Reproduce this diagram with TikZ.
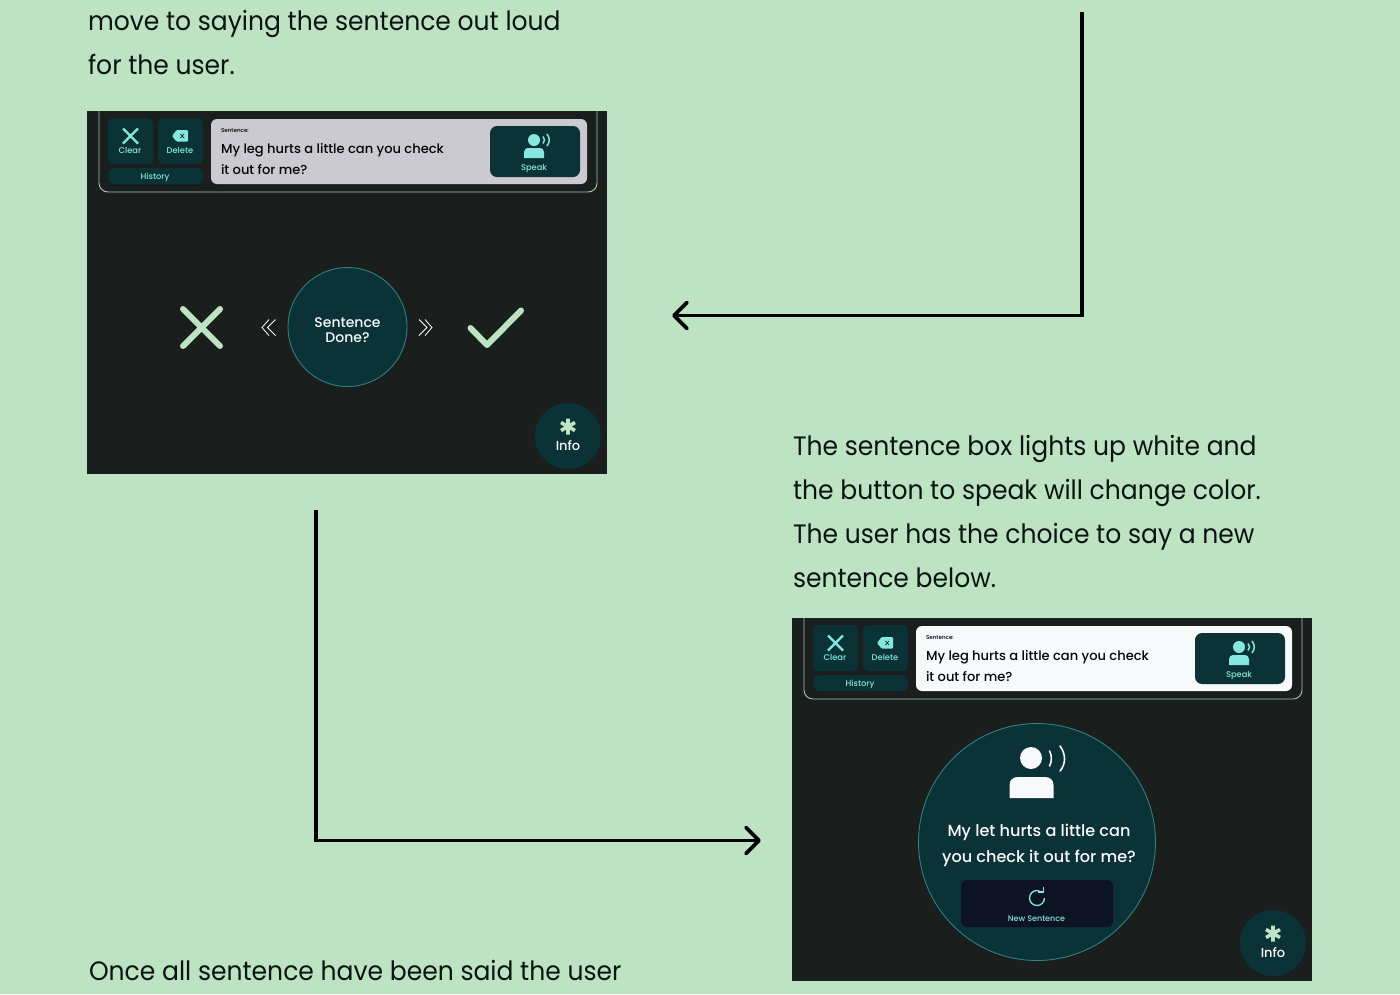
\documentclass[tikz,border=0pt]{standalone}
\usepackage{fontspec}
\setmainfont{Poppins Medium}
\newfontfamily\headf[FakeStretch=0.941]{Poppins}
\usetikzlibrary{arrows.meta}
\definecolor{bgc}{HTML}{BDE3C3}
\definecolor{panelc}{HTML}{1A1F1E}
\definecolor{tealc}{HTML}{0B3237}
\definecolor{aquac}{HTML}{84E8E0}
\definecolor{lightc}{HTML}{F8F9FB}
\definecolor{greyc}{HTML}{CACAD0}
\definecolor{navyc}{HTML}{0D1224}
\definecolor{ringc}{HTML}{2F8080}
\definecolor{inkc}{HTML}{0A1412}
\tikzset{
  x=1pt,y=-1pt,
  txt/.style={inner sep=0pt,outer sep=0pt},
  head/.style={txt,anchor=base west,font=\headf\fontsize{26.6}{44}\selectfont,text=inkc},
  uibtn/.style={fill=tealc,rounded corners=5pt,draw=none},
  small/.style={txt,anchor=base,font=\fontsize{8.3}{9}\selectfont,text=aquac},
  sent/.style={txt,anchor=base west,font=\fontsize{13.05}{15}\selectfont,text=black!85!panelc},
  flow/.style={line width=3.7pt,black,line join=miter},
  flowtip/.style={line width=3.7pt,black,line cap=round,line join=round},
}
\newcommand{\infobtn}[1]{%
  \node[circle,fill=tealc,minimum size=66pt,inner sep=0pt] (#1info) at (568,436) {};
  \draw[bgc,line width=3.6pt] (568,418.5)--(568,434.5) (561,422.5)--(575,430.5) (561,430.5)--(575,422.5);
  \node[txt,anchor=base,font=\fontsize{13}{15}\selectfont,text=lightc] (#1infot) at (568,450) {Info};
}
\newcommand{\topbar}[2]{%
  \fill[panelc] (87,111) rectangle (607,474);
  \draw[bgc!85!panelc,line width=.9pt,rounded corners=9pt] (99,111)--(99,192)--(597,192)--(597,111);
  \node[uibtn,minimum width=45pt,minimum height=46pt,inner sep=0pt] (#1clear) at (130.5,141) {};
  \node[uibtn,minimum width=45pt,minimum height=46pt,inner sep=0pt] (#1del) at (180.5,141) {};
  \node[uibtn,rounded corners=7pt,minimum width=95pt,minimum height=16pt,inner sep=0pt] (#1hist) at (155.5,176) {};
  \node[fill=#2,rounded corners=6pt,minimum width=376pt,minimum height=65pt,inner sep=0pt] (#1box) at (399,151.5) {};
  \node[uibtn,rounded corners=7pt,minimum width=90pt,minimum height=51pt,inner sep=0pt] (#1speak) at (535,151.5) {};
  \draw[aquac,line width=2.2pt] (123,128.5)--(138,143.5) (138,128.5)--(123,143.5);
  \node[small] (#1clt) at (130,153.8) {Clear};
  \fill[aquac,rounded corners=1pt] (172,136)--(176.5,130)--(188,130)--(188,141.5)--(176.5,141.5)--cycle;
  \draw[tealc,line width=.8pt] (180.5,134)--(184,138) (184,134)--(180.5,138);
  \node[small] (#1det) at (180,153.8) {Delete};
  \node[small] (#1hit) at (155,179.5) {History};
  \node[txt,anchor=base west,font=\fontsize{5.6}{6}\selectfont,text=black] (#1sl) at (221,132) {Sentence:};
  \node[sent] (#1s1) at (221,153.5) {My leg hurts a little can you check};
  \node[sent] (#1s2) at (221,174.5) {it out for me?};
  \fill[aquac] (534,140) circle[radius=6pt];
  \fill[aquac] (524,158) -- (524,152) .. controls (524,149.5) and (526,148) .. (528,148) -- (540,148) .. controls (542,148) and (544,149.5) .. (544,152) -- (544,158) -- cycle;
  \draw[aquac,line width=1.5pt] (543,136.5) .. controls (545,139) and (545,141) .. (543,143.5)
     (547,134) .. controls (550,138) and (550,142) .. (547,146);
  \node[small] (#1spt) at (534,170.5) {Speak};
}
\begin{document}
\begin{tikzpicture}
\useasboundingbox (0,0) rectangle (1400,994);
\fill[bgc] (0,0) rectangle (1400,994);
% texts
\node[head] (t1) at (88,30) {move to saying the sentence out loud};
\node[head] (t2) at (88,74) {for the user.};
\node[head] (t3) at (793,455) {The sentence box lights up white and};
\node[head] (t4) at (793,499) {the button to speak will change color.};
\node[head] (t5) at (793,543) {The user has the choice to say a new};
\node[head] (t6) at (793,587) {sentence below.};
\node[head] (t7) at (89,980) {Once all sentence have been said the user};
% left panel
\topbar{a}{greyc}
\node[circle,fill=tealc,draw=ringc,line width=.9pt,minimum size=119pt,inner sep=0pt] (adone) at (347.5,327) {};
\node[txt,anchor=base,font=\fontsize{14}{15}\selectfont,text=lightc] (ad1) at (347.5,327) {Sentence};
\node[txt,anchor=base,font=\fontsize{14}{15}\selectfont,text=lightc] (ad2) at (347.5,342) {Done?};
\draw[bgc,line width=6pt,line cap=round] (183,309)--(220,346) (220,309)--(183,346);
\draw[bgc,line width=6pt,line cap=round,line join=round] (470.5,328)--(487,345)--(521,310.5);
\draw[white,line width=.8pt] (269,319.5)--(262,327.5)--(269,335.5) (275.5,319.5)--(267.5,327.5)--(275.5,335.5);
\draw[white,line width=.8pt] (419,319.5)--(427,327.5)--(419,335.5) (425,319.5)--(432,327.5)--(425,335.5);
\infobtn{a}
% right panel
\begin{scope}[shift={(705,507)}]
\topbar{b}{lightc}
\infobtn{b}
\end{scope}
\node[circle,fill=tealc,draw=ringc,line width=.9pt,minimum size=237pt,inner sep=0pt] (bcirc) at (1037,842) {};
\fill[lightc] (1031,758) circle[radius=11pt];
\fill[lightc] (1009.5,798) -- (1009.5,785) .. controls (1009.5,780) and (1013,777) .. (1018,777) -- (1045,777) .. controls (1050,777) and (1053.5,780) .. (1053.5,785) -- (1053.5,798) -- cycle;
\draw[lightc,line width=1.6pt,line cap=round] (1049.5,751) .. controls (1052,755) and (1052,762) .. (1049.5,766)
   (1060,746) .. controls (1066,754) and (1066,764) .. (1060,771);
\node[txt,anchor=base,font=\fontsize{16.1}{20}\selectfont,text=lightc] (bl1) at (1039,836) {My let hurts a little can};
\node[txt,anchor=base,font=\fontsize{16.1}{20}\selectfont,text=lightc] (bl2) at (1039,862) {you check it out for me?};
\node[fill=navyc,rounded corners=6pt,minimum width=152pt,minimum height=47pt,inner sep=0pt] (bnew) at (1037,903.5) {};
\draw[aquac,line width=1.3pt] (1037,898) ++(0:7.5) arc[start angle=0,end angle=305,radius=7.5];
\draw[aquac,line width=1.3pt] (1043.5,886.5)--(1043.5,892)--(1038,892);
\node[txt,anchor=base,font=\fontsize{8}{9}\selectfont,text=aquac] (bnt) at (1036.5,921) {New Sentence};
% connectors
\coordinate (c1s) at (1082,12);
\coordinate (c1m) at (1082,315.5);
\coordinate (c1e) at (674,315.5);
\coordinate (c1a) at (687,302.5);
\coordinate (c1b) at (687,328.5);
\draw[flow] (c1s)--(c1m)--(c1e);
\draw[flowtip] (c1a)--(c1e)--(c1b);
\coordinate (c2s) at (316,510);
\coordinate (c2m) at (316,840.5);
\coordinate (c2e) at (759,840.5);
\coordinate (c2a) at (746,827.5);
\coordinate (c2b) at (746,853.5);
\draw[flow] (c2s)--(c2m)--(c2e);
\draw[flowtip] (c2a)--(c2e)--(c2b);
\end{tikzpicture}
\end{document}
